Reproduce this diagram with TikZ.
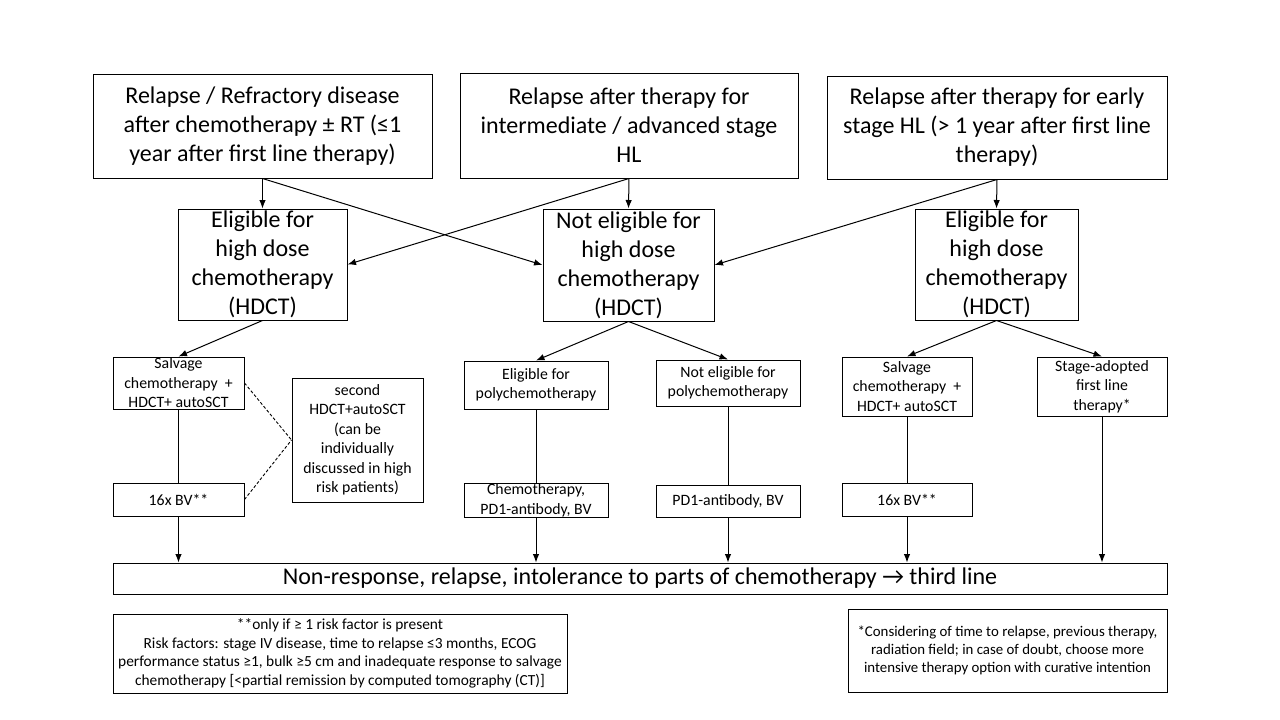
\documentclass[tikz,border=0pt]{standalone}
\usepackage{fontspec}
\setmainfont{Carlito}
\usetikzlibrary{arrows.meta}
\tikzset{
  box/.style={draw, line width=1pt, inner sep=0pt, align=center, anchor=center},
  big/.style={font=\fontsize{24}{29}\selectfont},
  small/.style={font=\fontsize{15.8}{19.5}\selectfont},
  note/.style={font=\fontsize{15.4}{18.5}\selectfont},
  arr/.style={line width=1pt, -{Latex[length=8.5pt,width=6.5pt]}},
  ln/.style={line width=1pt},
  dsh/.style={line width=0.9pt, dash pattern=on 3pt off 2pt},
}
\begin{document}
\begin{tikzpicture}[x=1pt,y=-1pt]
\useasboundingbox (0,0) rectangle (1280,720);
% top row
\node[box,big,minimum width=339pt,minimum height=104pt] (A1) at (262.5,126) {Relapse / Refractory disease\\after chemotherapy ± RT (≤1\\year after first line therapy)};
\node[box,big,minimum width=338pt,minimum height=105pt] (A2) at (629,125.5) {Relapse after therapy for\\intermediate / advanced stage\\HL};
\node[box,big,minimum width=340pt,minimum height=103pt] (A3) at (997,127.5) {Relapse after therapy for early\\stage HL (> 1 year after first line\\therapy)};
% second row
\node[box,big,minimum width=169pt,minimum height=111pt] (B1) at (262.5,264.5) {Eligible for\\high dose\\chemotherapy\\(HDCT)};
\node[box,big,minimum width=171pt,minimum height=112pt] (B2) at (628.5,265) {Not eligible for\\high dose\\chemotherapy\\(HDCT)};
\node[box,big,minimum width=163pt,minimum height=111pt] (B3) at (996.5,264.5) {Eligible for\\high dose\\chemotherapy\\(HDCT)};
% third row
\node[box,small,minimum width=131pt,minimum height=52pt] (C1) at (178.5,383) {Salvage\\chemotherapy\ \ +\\HDCT+ autoSCT};
\node[box,small,minimum width=131pt,minimum height=124pt] (D) at (357.5,440) {second\\HDCT+autoSCT\\(can be\\individually\\discussed in high\\risk patients)};
\node[box,small,minimum width=144pt,minimum height=48pt] (C2) at (536,385) {Eligible for\\polychemotherapy};
\node[box,small,minimum width=144pt,minimum height=46pt] (C3) at (728,383) {Not eligible for\\polychemotherapy};
\node[box,small,minimum width=130pt,minimum height=59pt] (C4) at (907,386.5) {Salvage\\chemotherapy\ \ +\\HDCT+ autoSCT};
\node[box,small,minimum width=130pt,minimum height=59pt] (C5) at (1102,386.5) {Stage-adopted\\first line\\therapy*};
% fourth row
\node[box,small,minimum width=131pt,minimum height=33pt] (E1) at (178.5,499.5) {16x BV**};
\node[box,small,minimum width=144pt,minimum height=31pt] (E2) at (536,500.5) {Chemotherapy,\\PD1-antibody,\ BV};
\node[box,small,minimum width=144pt,minimum height=32pt] (E3) at (728,501) {PD1-antibody,\ BV};
\node[box,small,minimum width=130pt,minimum height=33pt] (E4) at (907,499.5) {16x BV**};
% final
\node[box,font=\fontsize{24}{28}\selectfont,minimum width=1054pt,minimum height=31pt] (F) at (640,578.5) {Non-response, relapse, intolerance to parts of chemotherapy → third line};
% notes
\node[box,note,minimum width=454pt,minimum height=79pt] (G1) at (340,653.5) {**only if ≥ 1 risk factor is present\\Risk factors: stage IV disease, time to relapse ≤3 months, ECOG\\performance status ≥1, bulk ≥5 cm and inadequate response to salvage\\chemotherapy [<partial remission by computed tomography (CT)]};
\node[box,font=\fontsize{14.85}{17.6}\selectfont,minimum width=319pt,minimum height=83pt] (G2) at (1007.5,650.5) {*Considering of time to relapse, previous therapy,\\radiation field; in case of doubt, choose more\\intensive therapy option with curative intention};
% arrows top -> second
\draw[arr] (A1.south) -- (B1.north);
\draw[arr] (A1.south) -- (B2.west);
\draw[arr] (A2.south) -- (B1.east);
\draw[arr] (A2.south) -- (B2.north);
\draw[arr] (A3.south) -- (B3.north);
\draw[arr] (A3.south) -- (B2.east);
% second -> third
\draw[arr] (B1.south) -- (C1.north);
\draw[arr] (B2.south) -- (C2.north);
\draw[arr] (B2.south) -- (C3.north);
\draw[arr] (B3.south) -- (C4.north);
\draw[arr] (B3.south) -- (C5.north);
% third -> fourth
\draw[ln] (C1.south) -- (E1.north);
\draw[ln] (C2.south) -- (E2.north);
\draw[ln] (C3.south) -- (E3.north);
\draw[ln] (C4.south) -- (E4.north);
% dashed
\draw[dsh] (C1.east) -- (D.west);
\draw[dsh] (E1.east) -- (D.west);
% to final
\draw[arr] (E1.south) -- (E1.south |- F.north);
\draw[arr] (E2.south) -- (E2.south |- F.north);
\draw[arr] (E3.south) -- (E3.south |- F.north);
\draw[arr] (E4.south) -- (E4.south |- F.north);
\draw[arr] (C5.south) -- (C5.south |- F.north);
\end{tikzpicture}
\end{document}
